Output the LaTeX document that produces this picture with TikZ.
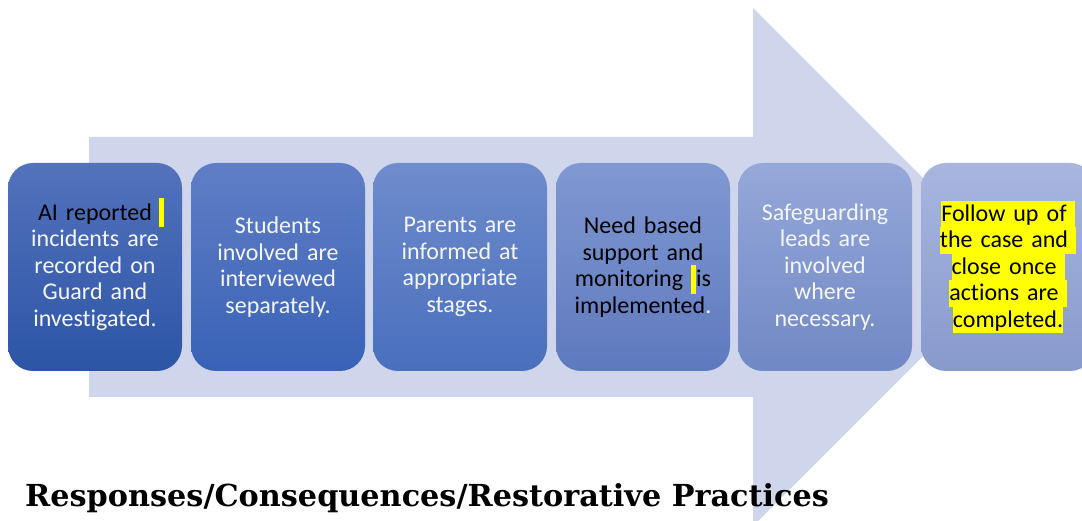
\documentclass[tikz,border=0pt]{standalone}
\usepackage{fontspec}
\setmainfont{Carlito}[Ligatures={NoCommon}]
\newfontfamily\titlefont{DejaVu Serif}
\usetikzlibrary{positioning}

\definecolor{arrowfill}{HTML}{CFD6EB}
\definecolor{hlyellow}{HTML}{FFFF00}
\definecolor{offwhite}{HTML}{F4F6FB}

% yellow highlight behind one line of text
\newcommand\hlline[1]{{\setlength{\fboxsep}{0pt}\colorbox{hlyellow}{\rule[-6pt]{0pt}{26.5pt}#1}}}
% narrow highlighted mark, kept out of the line spacing
\newcommand\hlmark{\raisebox{0pt}[0pt][0pt]{\textcolor{hlyellow}{\rule[-7pt]{5pt}{29pt}}}}

\tikzset{
  stepbox/.style={rounded corners=25pt, minimum width=174pt, minimum height=208pt,
    text width=170pt, align=center, inner sep=0pt, draw=none,
    font=\fontsize{24}{26.5}\selectfont, text=offwhite},
}

\begin{document}
\begin{tikzpicture}[x=1pt,y=-1pt]
\useasboundingbox (0,0) rectangle (1082,521);
\clip (0,0) rectangle (1082,521);

% big background arrow
\fill[arrowfill] (89,137) -- (753,137) -- (753,8) -- (1012,267) -- (753,526)
  -- (753,397) -- (89,397) -- cycle;

% process steps
\node[stepbox, top color={rgb,255:red,83;green,114;blue,188}, bottom color={rgb,255:red,44;green,85;blue,166}]
  (s1) at (95,267) {\textcolor{black}{AI reported}\rlap{\hspace{7pt}\hlmark}\\incidents are\\recorded on\\Guard and\\investigated.};
\node[stepbox, top color={rgb,255:red,96;green,126;blue,198}, bottom color={rgb,255:red,57;green,98;blue,182}]
  (s2) at (278,267) {Students\\involved are\\interviewed\\separately.};
\node[stepbox, top color={rgb,255:red,111;green,140;blue,204}, bottom color={rgb,255:red,73;green,111;blue,189}]
  (s3) at (460,267) {Parents are\\informed at\\appropriate\\stages.};
\node[stepbox, text=black, top color={rgb,255:red,128;green,152;blue,210}, bottom color={rgb,255:red,94;green,121;blue,190}]
  (s4) at (643,267) {Need based\\support and\\monitoring \hlmark is\\implemented\textcolor{offwhite}{.}};
\node[stepbox, top color={rgb,255:red,149;green,168;blue,217}, bottom color={rgb,255:red,112;green,136;blue,196}]
  (s5) at (825,267) {Safeguarding\\leads are\\involved\\where\\necessary.};
\node[stepbox, text=black, top color={rgb,255:red,168;green,182;blue,223}, bottom color={rgb,255:red,136;green,153;blue,204}]
  (s6) at (1008,267) {\hlline{Follow up of }\\\hlline{the case and }\\\hlline{close once }\\\hlline{actions are }\\\hlline{completed.}};

% heading below the flow
\node[anchor=base west, inner sep=0pt, font=\titlefont\bfseries\fontsize{30.3}{34}\selectfont]
  (title) at (25,506) {Responses/Consequences/Restorative Practices};
\end{tikzpicture}
\end{document}
